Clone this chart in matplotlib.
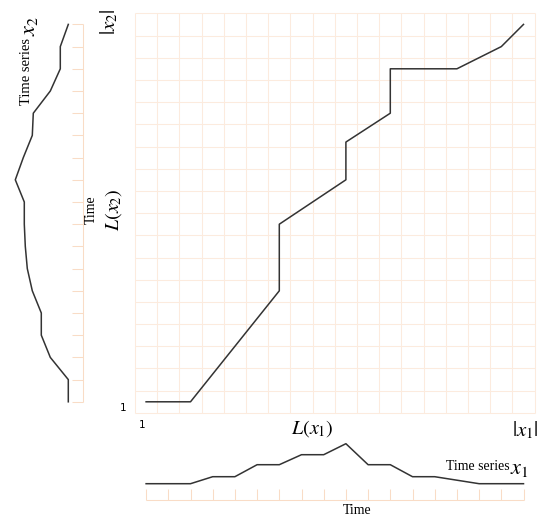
import numpy as np
import matplotlib.pyplot as plt

# ------------------------------------------------------------
# data
# ------------------------------------------------------------
N_STEPS = 18

# time series x1 (bottom panel), heights above its baseline
x1_values = [0, 0, 0, 7, 7, 19, 19, 29, 29, 40, 19, 19, 7, 7, 3.5, 0, 0, 0]

# time series x2 (left panel), index 0 at the bottom, grows to the left
x2_values = [0, 0, 18, 27, 27, 36, 41, 43, 44, 44, 53, 45, 36, 35, 18, 8, 8, 0]

# warping path through the cost grid
path_i = [0, 2, 6, 6, 9, 9, 11, 11, 14, 16, 17]
path_j = [0, 0, 5, 8, 10, 11.7, 13, 15, 15, 16, 17]

# ------------------------------------------------------------
# style
# ------------------------------------------------------------
W, H = 550, 524
LINE_COLOR = "#333333"
GRID_COLOR = "#fcebde"
TICK_COLOR = "#f9dcc6"

plt.rcParams["mathtext.fontset"] = "stix"
SERIF = "Liberation Serif"


def fx(px):
    return px / W


def fy(py):
    return 1 - py / H


def axes_px(fig, left, top, right, bottom):
    return fig.add_axes([fx(left), fy(bottom), (right - left) / W, (bottom - top) / H])


fig = plt.figure(figsize=(W / 100, H / 100), dpi=100)

# ------------------------------------------------------------
# main grid with warping path
# ------------------------------------------------------------
GRID_L, GRID_T, GRID_R, GRID_B = 135, 13.3, 534.6, 412.9
ax = axes_px(fig, GRID_L, GRID_T, GRID_R, GRID_B)
ax.set_xlim(-0.5, N_STEPS - 0.5)
ax.set_ylim(-0.5, N_STEPS - 0.5)
edges = np.arange(-0.5, N_STEPS, 1)
ax.vlines(edges, -0.5, N_STEPS - 0.5, color=GRID_COLOR, lw=0.75, clip_on=False, zorder=1)
ax.hlines(edges, -0.5, N_STEPS - 0.5, color=GRID_COLOR, lw=0.75, clip_on=False, zorder=1)
ax.plot(path_i, path_j, color=LINE_COLOR, lw=1.1, zorder=3)
ax.axis("off")

# ------------------------------------------------------------
# bottom panel: time series x1
# ------------------------------------------------------------
axb = axes_px(fig, GRID_L, 430, GRID_R, 524)
axb.set_xlim(-0.5, N_STEPS - 0.5)
axb.set_ylim(483.7 - 524, 483.7 - 430)
idx = np.arange(N_STEPS)
axb.plot(idx, x1_values, color=LINE_COLOR, lw=1.1, zorder=3)
axb.hlines(-16.3, 0, N_STEPS - 1, color=TICK_COLOR, lw=0.75)
axb.vlines(idx, -16.3, -5.3, color=TICK_COLOR, lw=0.75)
axb.axis("off")

# ------------------------------------------------------------
# left panel: time series x2 (rotated)
# ------------------------------------------------------------
axl = axes_px(fig, 0, GRID_T, 100, GRID_B)
axl.set_ylim(-0.5, N_STEPS - 0.5)
axl.set_xlim(68.3, 68.3 - 100)
axl.plot(x2_values, idx, color=LINE_COLOR, lw=1.1, zorder=3)
axl.vlines(-14.7, 0, N_STEPS - 1, color=TICK_COLOR, lw=0.75)
axl.hlines(idx, -14.7, -3.7, color=TICK_COLOR, lw=0.75)
axl.axis("off")

# ------------------------------------------------------------
# labels
# ------------------------------------------------------------
fig.text(fx(312), fy(429), r"$L\left(x_1\right)$", fontsize=14.5, ha="center", va="center")
fig.text(fx(525), fy(430), r"$|x_1|$", fontsize=15, ha="center", va="center")
fig.text(fx(142), fy(425), "1", fontsize=7.5, family="DejaVu Sans", ha="center", va="center")
fig.text(fx(123), fy(408), "1", fontsize=7.5, family="DejaVu Sans", ha="center", va="center")

fig.text(fx(114), fy(210), r"$L\left(x_2\right)$", fontsize=14.5, rotation=90,
         ha="center", va="center")
fig.text(fx(109), fy(22), r"$|x_2|$", fontsize=15, rotation=90,
         ha="center", va="center")

fig.text(fx(91), fy(210), "Time", fontsize=10, family=SERIF, rotation=90,
         ha="center", va="center")
fig.text(fx(357), fy(510), "Time", fontsize=10, family=SERIF, ha="center", va="center")

fig.text(fx(510), fy(466), "Time series", fontsize=10, family=SERIF, ha="right", va="center")
fig.text(fx(510), fy(469), r"$x_1$", fontsize=16, ha="left", va="center")

fig.text(fx(27), fy(38), "Time series", fontsize=10.5, family=SERIF, rotation=90,
         ha="center", va="top")
fig.text(fx(30), fy(36), r"$x_2$", fontsize=16, rotation=90, ha="center", va="bottom")

fig.savefig("out.png", dpi=100)
